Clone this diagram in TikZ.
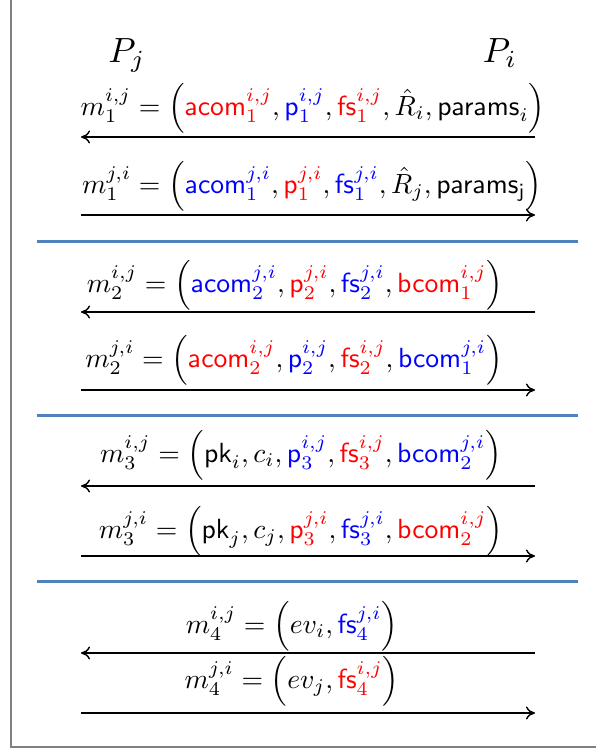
\documentclass[tikz,border=0pt]{standalone}
\usepackage{amsmath}
\usepackage{graphicx}
\usetikzlibrary{arrows.meta}
\newcommand{\rdc}[1]{\textcolor{red}{#1}}
\newcommand{\blc}[1]{\textcolor{blue}{#1}}
\newcommand{\eqbox}[1]{\scalebox{2.77}{$#1$}}
\newcommand{\ptybox}[1]{\scalebox{3.5}{$#1$}}
\definecolor{sepblue}{RGB}{79,129,189}
\begin{document}
\begin{tikzpicture}[x=1pt,y=-1pt,
  msg/.style={line width=1.6pt,-{To[length=9pt,width=13pt,line width=1.4pt]}},
  sep/.style={line width=3.5pt,sepblue},
  eq/.style={anchor=base,inner sep=0pt,font=\fontsize{10}{12}\selectfont},
  party/.style={anchor=base,inner sep=0pt,font=\fontsize{10}{12}\selectfont}]
\useasboundingbox (0,0) rectangle (595,755);
% frame
\draw[line width=1.8pt,gray] (11,-2) -- (11,747) -- (597,747);
% arrow end points
\foreach \n/\y in {1/137,2/215,3/312,4/390,5/486,6/556,7/653,8/713}{
  \coordinate (l\n) at (81,\y);
  \coordinate (r\n) at (535,\y);
}
% parties
\node[party] (pj) at (127,62) {\ptybox{P_j}};
\node[party] (pi) at (500,62) {\ptybox{P_i}};
% separators
\coordinate (s1a) at (37,241.5); \coordinate (s1b) at (578,241.5);
\coordinate (s2a) at (37,415.5); \coordinate (s2b) at (578,415.5);
\coordinate (s3a) at (37,581.5); \coordinate (s3b) at (578,581.5);
\draw[sep] (s1a) -- (s1b);
\draw[sep] (s2a) -- (s2b);
\draw[sep] (s3a) -- (s3b);
% messages
\node[eq] (e1) at (313,115) {\eqbox{m_1^{i,j} = \left(\rdc{\mathsf{acom}_1^{i,j}}, \blc{\mathsf{p}_1^{i,j}}, \rdc{\mathsf{fs}_1^{i,j}}, \hat{R}_i, \mathsf{params}_i\right)}};
\draw[msg] (r1) -- (l1);
\node[eq] (e2) at (312,193) {\eqbox{m_1^{j,i} = \left(\blc{\mathsf{acom}_1^{j,i}}, \rdc{\mathsf{p}_1^{j,i}}, \blc{\mathsf{fs}_1^{j,i}}, \hat{R}_j, \mathsf{params_j}\right)}};
\draw[msg] (l2) -- (r2);
\node[eq] (e3) at (295,292) {\eqbox{m_2^{i,j} = \left(\blc{\mathsf{acom}_2^{j,i}}, \rdc{\mathsf{p}_2^{j,i}}, \blc{\mathsf{fs}_2^{j,i}}, \rdc{\mathsf{bcom}_1^{i,j}}\right)}};
\draw[msg] (r3) -- (l3);
\node[eq] (e4) at (294,367) {\eqbox{m_2^{j,i} = \left(\rdc{\mathsf{acom}_2^{i,j}}, \blc{\mathsf{p}_2^{i,j}}, \rdc{\mathsf{fs}_2^{i,j}}, \blc{\mathsf{bcom}_1^{j,i}}\right)}};
\draw[msg] (l4) -- (r4);
\node[eq] (e5) at (301,462) {\eqbox{m_3^{i,j} = \left(\mathsf{pk}_i, c_i, \blc{\mathsf{p}_3^{i,j}}, \rdc{\mathsf{fs}_3^{i,j}}, \blc{\mathsf{bcom}_2^{j,i}}\right)}};
\draw[msg] (r5) -- (l5);
\node[eq] (e6) at (301,538) {\eqbox{m_3^{j,i} = \left(\mathsf{pk}_j, c_j, \rdc{\mathsf{p}_3^{j,i}}, \blc{\mathsf{fs}_3^{j,i}}, \rdc{\mathsf{bcom}_2^{i,j}}\right)}};
\draw[msg] (l6) -- (r6);
\node[eq] (e7) at (292,633) {\eqbox{m_4^{i,j} = \left(ev_i, \blc{\mathsf{fs}_4^{j,i}}\right)}};
\draw[msg] (r7) -- (l7);
\node[eq] (e8) at (292,688) {\eqbox{m_4^{j,i} = \left(ev_j, \rdc{\mathsf{fs}_4^{i,j}}\right)}};
\draw[msg] (l8) -- (r8);
\end{tikzpicture}
\end{document}
